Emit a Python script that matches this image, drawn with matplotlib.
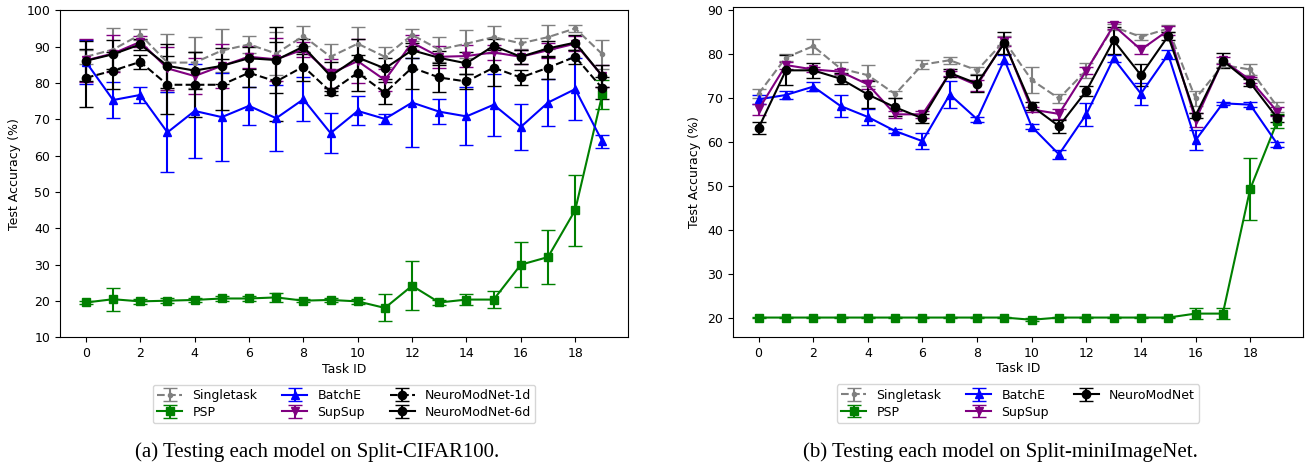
import numpy as np
import matplotlib
matplotlib.use('Agg')
import matplotlib.pyplot as plt

tasks = np.arange(20)

# ---- Split-CIFAR100 (left) ----
c_single = [87.2, 89.2, 93.3, 85.6, 85.6, 88.9, 90.6, 88.1, 92.9, 87.2,
            90.8, 87.2, 93.2, 89.2, 90.8, 92.6, 90.9, 92.6, 95.0, 87.9]
c_single_err = [2, 6, 1.5, 8, 7, 6, 2.3, 6, 2.7, 3.4, 4.6, 2.8, 1.7, 3.5, 3.9, 3, 1.5, 3.3, 1, 4]
c_psp = [19.6, 20.5, 19.9, 20.1, 20.3, 20.7, 20.7, 21.0, 20.1, 20.3,
         19.9, 18.1, 24.2, 19.6, 20.4, 20.4, 30.0, 32.1, 45.0, 76.9]
c_psp_err = [0.5, 3.2, 0.6, 0.6, 0.5, 0.7, 0.7, 1.3, 0.5, 0.5,
             0.6, 3.7, 6.8, 0.6, 1.5, 2.4, 6.2, 7.5, 9.8, 4.0]
c_batche = [85.8, 75.3, 76.7, 66.4, 72.3, 70.6, 73.7, 70.3, 75.5, 66.2,
            72.3, 70.1, 74.6, 72.1, 70.8, 74.0, 67.9, 74.6, 78.3, 63.9]
c_batche_err = [6, 5, 2.3, 11, 13, 12, 5.3, 9, 6, 5.5, 4, 1.3, 12.3, 3.5, 8, 8.5, 6.4, 6.4, 8.5, 1.8]
c_supsup = [86.2, 88.1, 91.3, 84.0, 81.9, 84.7, 87.2, 86.5, 89.2, 82.6,
            86.0, 80.8, 91.1, 87.2, 87.4, 88.4, 87.2, 89.0, 90.8, 81.9]
c_supsup_err = [6, 5, 1.5, 6, 5, 6, 3, 6, 2, 4, 6, 3, 2, 3, 3, 2, 2, 2, 2, 3]
c_nm1d = [81.4, 83.4, 85.8, 79.5, 79.5, 79.5, 82.8, 80.4, 84.5, 77.6,
          82.8, 77.3, 84.2, 81.5, 80.4, 84.2, 81.5, 84.2, 87.2, 78.5]
c_nm1d_err = [8, 5, 2, 8, 9, 7, 4, 11, 4, 1, 5, 3, 6, 4, 2, 5, 2, 3, 2, 3]
c_nm6d = [86.1, 87.9, 90.6, 84.7, 83.4, 84.7, 86.8, 86.3, 90.0, 81.9,
          87.0, 84.0, 89.0, 86.9, 85.4, 90.2, 87.2, 89.5, 91.1, 81.9]
c_nm6d_err = [5.5, 4, 1.5, 6, 5, 5, 3, 9, 2, 4, 5, 3, 2, 2, 3, 2, 2, 2, 2, 3]

# ---- Split-miniImageNet (right) ----
m_single = [70.9, 79.1, 81.7, 76.6, 75.1, 70.8, 77.5, 78.5, 76.2, 82.9,
            74.0, 69.8, 76.2, 86.1, 83.8, 85.7, 69.8, 77.4, 76.4, 67.9]
m_single_err = [1, 0.8, 1.7, 1.4, 2.4, 0.8, 1, 0.8, 0.8, 1, 3, 1, 1.7, 0.7, 0.6, 0.8, 1.8, 0.5, 1.2, 1.2]
m_psp = [20, 20, 20, 20, 20, 20, 20, 20, 20, 20,
         19.5, 20, 20, 20, 20, 20, 20.9, 20.9, 49.2, 64.7]
m_psp_err = [0.1, 0.1, 0.1, 0.1, 0.1, 0.1, 0.1, 0.1, 0.1, 0.1,
             0.3, 0.1, 0.1, 0.1, 0.1, 0.1, 1.3, 1.3, 7.0, 1.5]
m_batche = [69.6, 70.6, 72.5, 68.1, 65.6, 62.4, 60.1, 70.7, 65.1, 78.6,
            63.4, 57.1, 66.2, 78.9, 70.9, 79.8, 60.3, 68.7, 68.4, 59.4]
m_batche_err = [1, 1, 1, 2.5, 1.8, 0.5, 1.8, 3, 0.6, 1, 0.6, 1, 2.6, 0.8, 2.5, 1, 2.3, 0.3, 0.5, 0.6]
m_supsup = [67.3, 77.4, 76.4, 75.9, 73.0, 66.2, 66.2, 75.5, 72.8, 82.7,
            67.3, 66.3, 76.1, 86.4, 80.9, 85.3, 64.9, 78.5, 74.0, 66.8]
m_supsup_err = [1.3, 0.8, 0.5, 0.5, 1, 0.8, 0.8, 0.6, 1.3, 1, 0.5, 1.2, 0.8, 0.8, 1, 1, 1.5, 0.8, 0.7, 1]
m_nm = [63.1, 76.2, 76.2, 74.3, 70.7, 67.8, 65.3, 75.6, 73.2, 82.4,
        68.1, 63.5, 71.5, 83.0, 75.1, 84.0, 65.9, 78.4, 73.4, 65.3]
m_nm_err = [1.3, 3.4, 1.7, 1.2, 3, 2, 1, 1, 2, 2.5, 1, 1.5, 1.2, 3, 2.5, 1, 0.6, 1.7, 0.8, 0.8]


def draw(ax, y, err, label, color, marker, ls='-', ms=6):
    ax.errorbar(tasks, y, yerr=err, label=label, color=color, marker=marker,
                linestyle=ls, markersize=ms, capsize=5, linewidth=1.5,
                elinewidth=1.5)


fig = plt.figure(figsize=(13.06, 4.66), dpi=100)
ax1 = fig.add_axes([0.046, 0.276, 0.435, 0.702])
ax2 = fig.add_axes([0.561, 0.277, 0.437, 0.708])

draw(ax1, c_single, c_single_err, 'Singletask', 'gray', '.', '--')
draw(ax1, c_psp, c_psp_err, 'PSP', 'green', 's')
draw(ax1, c_batche, c_batche_err, 'BatchE', 'blue', '^')
draw(ax1, c_supsup, c_supsup_err, 'SupSup', 'purple', 'v')
draw(ax1, c_nm1d, c_nm1d_err, 'NeuroModNet-1d', 'black', 'o', '--')
draw(ax1, c_nm6d, c_nm6d_err, 'NeuroModNet-6d', 'black', 'o')
ax1.set_ylim(10, 100)

draw(ax2, m_single, m_single_err, 'Singletask', 'gray', '.', '--')
draw(ax2, m_psp, m_psp_err, 'PSP', 'green', 's')
draw(ax2, m_batche, m_batche_err, 'BatchE', 'blue', '^')
draw(ax2, m_supsup, m_supsup_err, 'SupSup', 'purple', 'v')
draw(ax2, m_nm, m_nm_err, 'NeuroModNet', 'black', 'o')
ax2.set_ylim(15.6, 90.6)

for ax in (ax1, ax2):
    ax.set_xticks(range(0, 20, 2))
    ax.set_xlabel('Task ID', fontsize=9, labelpad=2)
    ax.set_ylabel('Test Accuracy (%)', fontsize=9)
    ax.tick_params(labelsize=9)
    ax.legend(loc='upper center', bbox_to_anchor=(0.5, -0.125), ncol=3,
              fontsize=9, borderpad=0.35, labelspacing=0.3)

fig.text(0.243, 0.03, '(a) Testing each model on Split-CIFAR100.',
         family='Liberation Serif', fontsize=15, ha='center', va='center')
fig.text(0.766, 0.03, '(b) Testing each model on Split-miniImageNet.',
         family='Liberation Serif', fontsize=15, ha='center', va='center')

fig.savefig('out.png', dpi=100)
